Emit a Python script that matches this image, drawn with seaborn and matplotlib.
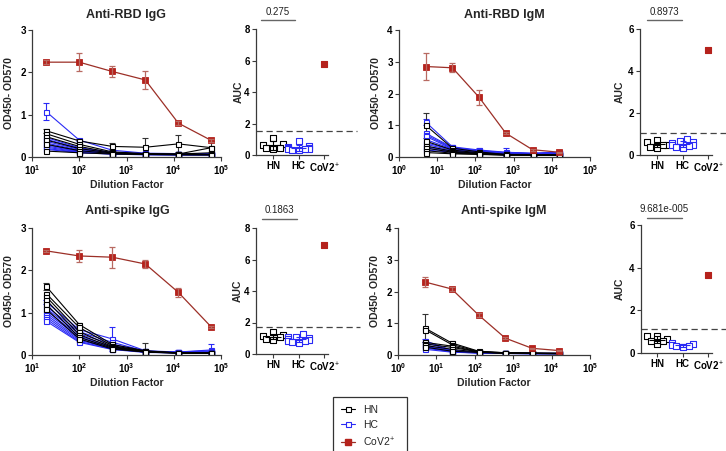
import numpy as np
import pandas as pd
import matplotlib
matplotlib.use("Agg")
import matplotlib.pyplot as plt
import matplotlib.transforms as mtransforms
import seaborn as sns
from matplotlib.lines import Line2D

# ------------------------------------------------------------------ data
dil_igg = [20, 100, 500, 2500, 12500, 62500]
dil_igm = [5, 25, 125, 625, 3125, 15625]
groups = ["HN", "HC", "CoV2+"]

# Anti-RBD IgG
rbd_igg_cov = [2.24, 2.24, 2.02, 1.82, 0.80, 0.39]
rbd_igg_cov_err = [0.05, 0.22, 0.12, 0.21, 0.04, 0.04]
rbd_igg_hn = [
    [0.62, 0.38, 0.25, 0.23, 0.31, 0.22],
    [0.55, 0.30, 0.12, 0.08, 0.07, 0.22],
    [0.48, 0.25, 0.10, 0.07, 0.07, 0.10],
    [0.40, 0.20, 0.09, 0.07, 0.06, 0.06],
    [0.30, 0.15, 0.08, 0.06, 0.06, 0.05],
    [0.14, 0.10, 0.07, 0.06, 0.05, 0.05],
]
rbd_igg_hn_err = [0.05, 0.04, 0.08, 0.23, 0.20, 0.15]
rbd_igg_hc = [
    [1.07, 0.40, 0.16, 0.09, 0.08, 0.08],
    [0.46, 0.22, 0.11, 0.08, 0.07, 0.07],
    [0.42, 0.20, 0.10, 0.07, 0.07, 0.07],
    [0.37, 0.18, 0.10, 0.07, 0.06, 0.06],
    [0.33, 0.16, 0.09, 0.07, 0.06, 0.06],
    [0.29, 0.14, 0.09, 0.06, 0.06, 0.06],
    [0.26, 0.13, 0.08, 0.06, 0.06, 0.06],
    [0.23, 0.12, 0.08, 0.06, 0.05, 0.05],
    [0.20, 0.11, 0.07, 0.06, 0.05, 0.05],
    [0.18, 0.10, 0.07, 0.05, 0.05, 0.05],
]
rbd_igg_hc_err = [0.20, 0.03, 0.03, 0.02, 0.02, 0.02]

# Anti-RBD IgM
rbd_igm_cov = [2.85, 2.81, 1.88, 0.75, 0.23, 0.15]
rbd_igm_cov_err = [0.42, 0.14, 0.23, 0.04, 0.03, 0.02]
rbd_igm_hn = [
    [1.00, 0.28, 0.16, 0.08, 0.08, 0.07],
    [0.50, 0.22, 0.13, 0.08, 0.07, 0.07],
    [0.35, 0.18, 0.11, 0.07, 0.07, 0.06],
    [0.28, 0.15, 0.10, 0.07, 0.06, 0.06],
    [0.20, 0.12, 0.09, 0.06, 0.06, 0.06],
    [0.14, 0.10, 0.08, 0.06, 0.06, 0.05],
]
rbd_igm_hn_err = [0.40, 0.06, 0.03, 0.02, 0.02, 0.02]
rbd_igm_hc = [
    [1.10, 0.32, 0.22, 0.15, 0.12, 0.15],
    [0.75, 0.30, 0.20, 0.14, 0.11, 0.14],
    [0.70, 0.28, 0.19, 0.13, 0.11, 0.13],
    [0.65, 0.26, 0.18, 0.13, 0.10, 0.13],
    [0.55, 0.25, 0.17, 0.12, 0.10, 0.12],
    [0.45, 0.23, 0.16, 0.12, 0.10, 0.12],
    [0.40, 0.21, 0.15, 0.11, 0.09, 0.11],
    [0.32, 0.19, 0.14, 0.11, 0.09, 0.11],
    [0.28, 0.17, 0.13, 0.10, 0.09, 0.10],
    [0.22, 0.15, 0.12, 0.10, 0.08, 0.10],
]
rbd_igm_hc_err = [0.10, 0.06, 0.05, 0.12, 0.04, 0.05]

# Anti-spike IgG
spk_igg_cov = [2.46, 2.34, 2.31, 2.15, 1.48, 0.66]
spk_igg_cov_err = [0.03, 0.15, 0.25, 0.10, 0.10, 0.03]
spk_igg_hn = [
    [1.62, 0.72, 0.25, 0.10, 0.05, 0.05],
    [1.45, 0.65, 0.22, 0.09, 0.05, 0.05],
    [1.38, 0.55, 0.20, 0.08, 0.05, 0.05],
    [1.30, 0.48, 0.18, 0.08, 0.05, 0.05],
    [1.20, 0.42, 0.16, 0.07, 0.05, 0.04],
    [1.08, 0.38, 0.14, 0.07, 0.04, 0.04],
]
spk_igg_hn_err = [0.08, 0.04, 0.06, 0.18, 0.02, 0.02]
spk_igg_hc = [
    [1.25, 0.60, 0.38, 0.10, 0.07, 0.12],
    [1.15, 0.55, 0.30, 0.09, 0.07, 0.10],
    [1.10, 0.50, 0.25, 0.09, 0.06, 0.08],
    [1.05, 0.45, 0.20, 0.08, 0.06, 0.07],
    [1.00, 0.42, 0.18, 0.08, 0.06, 0.06],
    [0.95, 0.38, 0.16, 0.07, 0.06, 0.06],
    [0.90, 0.35, 0.15, 0.07, 0.05, 0.05],
    [0.85, 0.32, 0.14, 0.07, 0.05, 0.05],
    [0.80, 0.30, 0.13, 0.06, 0.05, 0.05],
]
spk_igg_hc_err = [0.05, 0.05, 0.28, 0.03, 0.04, 0.13]

# Anti-spike IgM
spk_igm_cov = [2.30, 2.08, 1.26, 0.53, 0.21, 0.14]
spk_igm_cov_err = [0.15, 0.06, 0.06, 0.03, 0.02, 0.02]
spk_igm_hn = [
    [0.85, 0.38, 0.12, 0.07, 0.06, 0.05],
    [0.80, 0.33, 0.11, 0.07, 0.06, 0.05],
    [0.40, 0.28, 0.10, 0.06, 0.05, 0.05],
    [0.35, 0.24, 0.10, 0.06, 0.05, 0.05],
    [0.30, 0.18, 0.09, 0.06, 0.05, 0.04],
    [0.25, 0.12, 0.08, 0.05, 0.05, 0.04],
]
spk_igm_hn_err = [0.43, 0.05, 0.03, 0.02, 0.02, 0.02]
spk_igm_hc = [
    [0.45, 0.15, 0.08, 0.06, 0.05, 0.05],
    [0.40, 0.14, 0.08, 0.06, 0.05, 0.05],
    [0.32, 0.13, 0.07, 0.06, 0.05, 0.05],
    [0.28, 0.12, 0.07, 0.05, 0.05, 0.04],
    [0.25, 0.11, 0.07, 0.05, 0.04, 0.04],
    [0.22, 0.10, 0.06, 0.05, 0.04, 0.04],
    [0.18, 0.09, 0.06, 0.05, 0.04, 0.04],
]
spk_igm_hc_err = [0.05, 0.03, 0.02, 0.02, 0.02, 0.02]

# AUC values
auc_rbd_igg_hn = [1.10, 0.68, 0.62, 0.45, 0.42, 0.38]
auc_rbd_igg_hc = [0.90, 0.55, 0.50, 0.45, 0.42, 0.40, 0.38, 0.35, 0.32, 0.30]
auc_rbd_igg_cov = [5.75]
auc_rbd_igm_hn = [0.72, 0.60, 0.50, 0.47, 0.40, 0.35]
auc_rbd_igm_hc = [0.75, 0.65, 0.60, 0.55, 0.50, 0.50, 0.45, 0.40, 0.35]
auc_rbd_igm_cov = [5.00]
auc_spk_igg_hn = [1.40, 1.20, 1.15, 1.05, 0.95, 0.90]
auc_spk_igg_hc = [1.25, 1.10, 1.05, 1.00, 0.95, 0.90, 0.85, 0.80, 0.75, 0.70]
auc_spk_igg_cov = [6.90]
auc_spk_igm_hn = [0.80, 0.78, 0.67, 0.56, 0.55, 0.40]
auc_spk_igm_hc = [0.47, 0.44, 0.36, 0.33, 0.31, 0.28]
auc_spk_igm_cov = [3.66]

cutoffs = [1.52, 1.05, 1.73, 1.12]
pvalues = ["0.275", "0.8973", "0.1863", "9.681e-005"]
titles = ["Anti-RBD IgG", "Anti-RBD IgM", "Anti-spike IgG", "Anti-spike IgM"]

# ------------------------------------------------------------------ style
sns.set_theme(style="ticks")
plt.rcParams["font.family"] = ["Liberation Sans", "DejaVu Sans"]
plt.rcParams["mathtext.fontset"] = "custom"
plt.rcParams["mathtext.rm"] = "Liberation Sans"
plt.rcParams["mathtext.bf"] = "Liberation Sans:bold"
plt.rcParams["axes.edgecolor"] = "#3a3a3a"
plt.rcParams["xtick.color"] = "#3a3a3a"
plt.rcParams["ytick.color"] = "#3a3a3a"
plt.rcParams["xtick.labelcolor"] = "black"
plt.rcParams["ytick.labelcolor"] = "black"

BLK = "black"
BLUE = "#2a2af5"
RED_LINE = "#9c2f27"
RED_MK = "#b5221c"
RED_ERR = "#b86a62"

W, H = 726, 451
fig = plt.figure(figsize=(W / 100, H / 100), dpi=100)


def px_axes(left, top, right, bottom):
    return fig.add_axes([left / W, 1 - bottom / H, (right - left) / W, (bottom - top) / H])


def long_df(x, rows, tag):
    recs = []
    for i, r in enumerate(rows):
        for xx, yy in zip(x, r):
            recs.append({"dil": xx, "od": yy, "id": f"{tag}{i}"})
    return pd.DataFrame(recs)


def style_ticks(ax):
    ax.tick_params(axis="both", length=3, width=0.8, labelsize=7, pad=1.5)
    for lab in ax.get_xticklabels() + ax.get_yticklabels():
        lab.set_fontweight("bold")
    for s in ["left", "bottom"]:
        ax.spines[s].set_linewidth(0.9)
    sns.despine(ax=ax)


def line_panel(ax, x, hn, hn_err, hc, hc_err, cov, cov_err, ymax, xmin, title, tx, ty):
    ax.set_xscale("log")
    common = dict(units="id", estimator=None, marker="s", markersize=3.6,
                  markerfacecolor="white", markeredgewidth=0.8, linewidth=0.8,
                  legend=False, ax=ax, sort=True)
    sns.lineplot(data=long_df(x, hc, "hc"), x="dil", y="od", color=BLUE,
                 markeredgecolor=BLUE, **common)
    ax.errorbar(x, hc[0], yerr=hc_err, fmt="none", ecolor=BLUE, elinewidth=0.8,
                capsize=2, capthick=0.8, zorder=1)
    sns.lineplot(data=long_df(x, hn, "hn"), x="dil", y="od", color=BLK,
                 markeredgecolor=BLK, **common)
    ax.errorbar(x, hn[0], yerr=hn_err, fmt="none", ecolor="#333333", elinewidth=0.8,
                capsize=2, capthick=0.8, zorder=1)
    ax.errorbar(x, cov, yerr=cov_err, fmt="none", ecolor=RED_ERR, elinewidth=0.9,
                capsize=2.2, capthick=0.9, zorder=3)
    sns.lineplot(x=x, y=cov, color=RED_LINE, marker="s", markersize=4.2,
                 markerfacecolor=RED_MK, markeredgecolor=RED_MK, markeredgewidth=0.6,
                 linewidth=0.9, legend=False, ax=ax)
    ax.set_xlim(xmin, 1e5)
    ax.set_ylim(0, ymax)
    ax.set_yticks(range(0, ymax + 1))
    exps = range(int(np.log10(xmin)), 6)
    ax.set_xticks([10.0 ** e for e in exps])
    ax.set_xticklabels([rf"$\mathbf{{10^{{{e}}}}}$" for e in exps])
    ax.xaxis.set_minor_locator(matplotlib.ticker.NullLocator())
    ax.set_xlabel("Dilution Factor", fontsize=7.5, fontweight="bold", labelpad=2)
    ax.set_ylabel("OD450- OD570", fontsize=7.5, fontweight="bold")
    ax.yaxis.set_label_coords(-18 / (ax.get_position().width * W), 0.5)
    style_ticks(ax)
    fig.text(tx / W, 1 - ty / H, title, ha="center", va="center",
             fontsize=9, fontweight="bold")


def auc_panel(ax, hn, hc, cov, ymax, step, cutoff, pval, ax_left, hn_px, right_px,
              bar_px, bar_y, txt_y, label_dx):
    sp = 25.5
    df = pd.DataFrame({"grp": ["HN"] * len(hn) + ["HC"] * len(hc) + ["CoV2+"] * len(cov),
                       "auc": hn + hc + cov})
    for g, c, face in [("HN", BLK, "white"), ("HC", BLUE, "white"), ("CoV2+", RED_MK, RED_MK)]:
        sub = df[df.grp == g]
        before = set(id(o) for o in ax.collections)
        sns.swarmplot(data=sub, x="grp", y="auc", order=groups, color=c, marker="s",
                      size=4.0, linewidth=0.8, edgecolor=c, facecolor=face, ax=ax,
                      zorder=3)
        for coll in ax.collections:
            if id(coll) not in before:
                coll.set_facecolor(face)
                coll.set_edgecolor(c)
    for i, (vals, c) in enumerate([(hn, BLK), (hc, BLUE)]):
        m, s = np.mean(vals), np.std(vals, ddof=1)
        ax.hlines(m, i - 0.3, i + 0.3, color=c, lw=0.8, zorder=4)
        ax.errorbar(i, m, yerr=s, fmt="none", ecolor=c, elinewidth=0.8, capsize=2,
                    capthick=0.8, zorder=4)
    xl = -(hn_px - ax_left) / sp
    xr = (right_px - hn_px) / sp
    ax.plot([xl, xr], [cutoff, cutoff], ls=(0, (5, 3)), color="#444444", lw=0.9,
            clip_on=False, zorder=2)
    ax.set_xlim(xl, xr)
    ax.set_ylim(0, ymax)
    ax.set_yticks(np.arange(0, ymax + 1, step))
    ax.set_xticks([0, 1, 2])
    ax.set_xticklabels(["HN", "HC", r"CoV2$^{+}$"])
    ax.spines["bottom"].set_bounds(xl, 2.15)
    ax.set_xlabel("")
    ax.set_ylabel("AUC", fontsize=7.5, fontweight="bold")
    ax.yaxis.set_label_coords(-label_dx / (ax.get_position().width * W), 0.5)
    style_ticks(ax)
    hpx = ax.get_position().height * H
    top_px = (1 - ax.get_position().y1) * H
    trans = mtransforms.blended_transform_factory(ax.transData, ax.transAxes)
    b0 = (bar_px[0] - hn_px) / sp
    b1 = (bar_px[1] - hn_px) / sp
    yb = 1 + (top_px - bar_y) / hpx
    yt = 1 + (top_px - txt_y) / hpx
    ax.plot([b0, b1], [yb, yb], color="#666666", lw=1.0, transform=trans, clip_on=False)
    ax.text((b0 + b1) / 2, yt, pval, ha="center", va="center", fontsize=7,
            transform=trans, color="#222222")


# ------------------------------------------------------------------ panels
ax1 = px_axes(32, 30, 221, 157)
line_panel(ax1, dil_igg, rbd_igg_hn, rbd_igg_hn_err, rbd_igg_hc, rbd_igg_hc_err,
           rbd_igg_cov, rbd_igg_cov_err, 3, 10, titles[0], 126, 15)
ax2 = px_axes(256, 29, 357, 155)
auc_panel(ax2, auc_rbd_igg_hn, auc_rbd_igg_hc, auc_rbd_igg_cov, 8, 2, cutoffs[0],
          pvalues[0], 256, 273, 357, (261, 295), 20, 12, 12)

ax3 = px_axes(399, 30, 590, 157)
line_panel(ax3, dil_igm, rbd_igm_hn, rbd_igm_hn_err, rbd_igm_hc, rbd_igm_hc_err,
           rbd_igm_cov, rbd_igm_cov_err, 4, 1, titles[1], 504, 15)
ax4 = px_axes(640, 29, 726, 155)
auc_panel(ax4, auc_rbd_igm_hn, auc_rbd_igm_hc, auc_rbd_igm_cov, 6, 2, cutoffs[1],
          pvalues[1], 640, 657, 726, (647, 682), 20, 12, 15.5)

ax5 = px_axes(32, 228, 221, 355)
line_panel(ax5, dil_igg, spk_igg_hn, spk_igg_hn_err, spk_igg_hc, spk_igg_hc_err,
           spk_igg_cov, spk_igg_cov_err, 3, 10, titles[2], 127, 211)
ax6 = px_axes(256, 228, 360, 354)
auc_panel(ax6, auc_spk_igg_hn, auc_spk_igg_hc, auc_spk_igg_cov, 8, 2, cutoffs[2],
          pvalues[2], 256, 273, 360, (262, 297), 219, 210, 13.5)

ax7 = px_axes(398, 228, 590, 355)
line_panel(ax7, dil_igm, spk_igm_hn, spk_igm_hn_err, spk_igm_hc, spk_igm_hc_err,
           spk_igm_cov, spk_igm_cov_err, 4, 1, titles[3], 504, 211)
ax8 = px_axes(641, 225, 726, 353)
auc_panel(ax8, auc_spk_igm_hn, auc_spk_igm_hc, auc_spk_igm_cov, 6, 2, cutoffs[3],
          pvalues[3], 641, 657, 726, (647, 682), 218, 209, 16.5)

# ------------------------------------------------------------------ legend
handles = [
    Line2D([], [], color=BLK, marker="s", markersize=3.6, markerfacecolor="white",
           markeredgecolor=BLK, markeredgewidth=0.8, lw=0.8),
    Line2D([], [], color=BLUE, marker="s", markersize=3.6, markerfacecolor="white",
           markeredgecolor=BLUE, markeredgewidth=0.8, lw=0.8),
    Line2D([], [], color=RED_LINE, marker="s", markersize=4.0, markerfacecolor=RED_MK,
           markeredgecolor=RED_MK, lw=0.9),
]
leg = fig.legend(handles, ["HN", "HC", r"CoV2$^{+}$"], loc="upper left",
                 bbox_to_anchor=(333 / W, 1 - 397 / H, 74 / W, 0), mode="expand",
                 fontsize=7.5, frameon=True, fancybox=False, edgecolor="black",
                 handlelength=1.4, handletextpad=0.7, borderpad=0.75,
                 labelspacing=0.5, borderaxespad=0)
leg.get_frame().set_linewidth(0.9)

fig.savefig("out.png", dpi=100)
